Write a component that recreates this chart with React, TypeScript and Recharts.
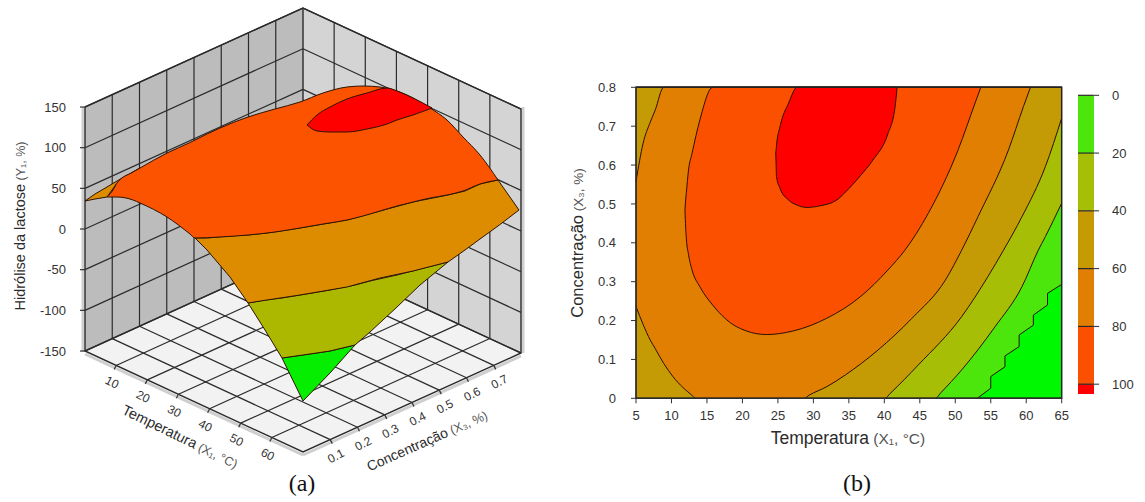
import { ComposedChart, BarChart, Bar, Area, Line, XAxis, YAxis, ReferenceLine } from "recharts";

// shared axes
const tempTicks3d = [10, 20, 30, 40, 50, 60];
const concTicks3d = [0.1, 0.2, 0.3, 0.4, 0.5, 0.6, 0.7];
const yieldTicks = [-150, -100, -50, 0, 50, 100, 150];
const tempTicks = [5, 10, 15, 20, 25, 30, 35, 40, 45, 50, 55, 60, 65];
const concTicks = [0, 0.1, 0.2, 0.3, 0.4, 0.5, 0.6, 0.7, 0.8];

// panel (a): traced surface bands, on the projected drawing plane
const greenX = [282, 303, 330, 355];
const greenTop = [358, 355, 351, 345];
const greenBottom = [358, 401, 373, 345];

const oliveX = [248, 265, 282, 303, 330, 355, 370, 397, 420, 448];
const oliveTop = [303, 300, 298, 294.5, 290, 285, 281, 275, 269, 262];
const oliveBottom = [303, 330, 358, 355, 351, 345, 332, 307, 285, 262];

const orangeX = [195, 207, 230, 248, 267, 300, 347, 380, 413, 448, 465, 480, 498, 519];
const orangeTop = [238, 238, 236, 235, 233, 228, 220, 211, 202, 195, 191, 184, 180, 210];
const orangeBottom = [238, 250, 277, 303, 300, 295, 287, 278, 271, 262, 250, 239, 226, 210];

const mainX = [107, 113, 117, 133, 140, 167, 190, 195, 220, 248, 275, 300, 323, 347, 363, 380, 397, 413, 430, 447, 463, 480, 498];
const mainTop = [197, 190, 183, 172, 168, 153, 142.5, 140, 128, 117, 109, 102, 93, 87, 86, 87, 91, 98, 108, 120, 137, 155, 180];
const mainBottom = [197, 197, 197, 200, 203, 217, 234, 238, 237, 235, 232, 228, 224, 220, 216, 211, 206, 202, 198, 195, 191, 184, 180];

const sliverX = [85, 95, 107, 117, 133, 140];
const sliverTop = [201, 194, 187, 181, 172, 168];
const sliverBottom = [201, 199, 197, 183, 172, 168];

const peakX = [307, 317, 330, 347, 367, 387, 397, 413, 432];
const peakTop = [125, 115, 107, 99, 93, 88, 91, 98, 108];
const peakBottom = [125, 131, 132, 132, 129, 124, 120, 115, 108];

// panel (b): contour bands, temperature against concentration
const base20T = [5, 53.1, 55, 55, 57, 57, 59, 59, 61, 61, 63, 63, 65];
const base20Lower = [0, 0, 0.026, 0.056, 0.081, 0.109, 0.133, 0.163, 0.188, 0.214, 0.24, 0.27, 0.293];

const level20T = [5, 47.2, 48, 50.9, 55.6, 59.4, 61.7, 62.7, 65];
const level20Lower = [0, 0, 0.015, 0.073, 0.184, 0.287, 0.381, 0.416, 0.502];

const level40T = [5, 40.1, 40.8, 44.8, 50.9, 54.6, 56.8, 59.4, 62.7, 65];
const level40Lower = [0, 0, 0.012, 0.086, 0.21, 0.313, 0.381, 0.467, 0.596, 0.721];

const level60T = [5, 6, 7, 7.7, 8.9, 10.2, 13, 13.4, 28.7, 29.4, 31.9, 34.5, 39.1, 43.9, 48.6, 50.9, 53.2, 57.5, 59.6, 60.6];
const level60Lower = [0.236, 0.19, 0.15, 0.128, 0.09, 0.056, 0.006, 0, 0, 0.008, 0.03, 0.06, 0.124, 0.206, 0.304, 0.381, 0.467, 0.639, 0.75, 0.8];
const level60Upper = [0.557, 0.656, 0.71, 0.741, 0.8, 0.8, 0.8, 0.8, 0.8, 0.8, 0.8, 0.8, 0.8, 0.8, 0.8, 0.8, 0.8, 0.8, 0.8, 0.8];

const level80T = [11.9, 12, 12.1, 12.4, 12.9, 14, 15.8, 16.4, 19.2, 23.4, 27.1, 31.9, 36.6, 40.5, 42.9, 46.2, 50.4, 52.8, 53.6];
const level80Lower = [0.484, 0.44, 0.41, 0.37, 0.33, 0.287, 0.24, 0.227, 0.184, 0.164, 0.173, 0.206, 0.261, 0.33, 0.381, 0.476, 0.639, 0.76, 0.8];
const level80Upper = [0.484, 0.51, 0.53, 0.587, 0.63, 0.716, 0.8, 0.8, 0.8, 0.8, 0.8, 0.8, 0.8, 0.8, 0.8, 0.8, 0.8, 0.8, 0.8];

const level100T = [24.7, 24.75, 24.8, 25.3, 26.5, 27.7, 29.1, 30.9, 33.3, 34.5, 36.6, 38.4, 40.5, 41.5, 41.8];
const level100Lower = [0.631, 0.6, 0.57, 0.54, 0.51, 0.497, 0.491, 0.495, 0.51, 0.53, 0.572, 0.613, 0.68, 0.7475, 0.8];
const level100Upper = [0.631, 0.64, 0.65, 0.699, 0.759, 0.8, 0.8, 0.8, 0.8, 0.8, 0.8, 0.8, 0.8, 0.8, 0.8];

// colour key
const keyTicks = [0, 20, 40, 60, 80, 100];
const keyBands = [20, 20, 20, 20, 20, 3.4];
const keyColors = ["#4ce60c", "#a6bf06", "#c69a03", "#e07f02", "#fb5000", "#ff0000"];

const SANS = '"Liberation Sans", Arial, sans-serif';
const TEXT = "#333";
const CONTOUR = "#2a1000";

// oblique view of the cube: temperature 0-70, concentration 0-0.8, yield -150..150
const project = (t: number, c: number, y: number) => ({
  x: 85 + (t * 218) / 70 + (c * 218) / 0.8,
  y: 351 + (t * 101) / 70 - (c * 99) / 0.8 - (y + 150) * 0.8133,
});

const band = (xs: number[], low: number[] | number, high: number[] | number) =>
  xs.map((x, i) => ({
    x,
    range: [typeof low === "number" ? low : low[i], typeof high === "number" ? high : high[i]],
  }));

const seg = (a: { x: number; y: number }, b: { x: number; y: number }) => [a, b];

const gridLines = [
  ...concTicks3d.map((c) => seg(project(0, c, -150), project(0, c, 150))),
  ...tempTicks3d.map((t) => seg(project(t, 0.8, -150), project(t, 0.8, 150))),
  ...yieldTicks.map((y) => seg(project(0, 0, y), project(0, 0.8, y))),
  ...yieldTicks.map((y) => seg(project(0, 0.8, y), project(70, 0.8, y))),
  ...tempTicks3d.map((t) => seg(project(t, 0, -150), project(t, 0.8, -150))),
  ...concTicks3d.map((c) => seg(project(0, c, -150), project(70, c, -150))),
];
const frameLines = [
  [project(0, 0, 150), project(0, 0, -150), project(70, 0, -150), project(70, 0.8, -150), project(70, 0.8, 150), project(0, 0.8, 150), project(0, 0, 150)],
  [project(0, 0.8, 150), project(0, 0.8, -150)],
  [project(0, 0, -150), project(0, 0.8, -150), project(70, 0.8, -150)],
];
const tickMarks = [
  ...yieldTicks.map((y) => {
    const p = project(0, 0, y);
    return seg(p, { x: p.x - 5, y: p.y });
  }),
  ...tempTicks3d.map((t) => {
    const p = project(t, 0, -150);
    return seg(p, { x: p.x - 2, y: p.y + 4 });
  }),
  ...concTicks3d.map((c) => {
    const p = project(70, c, -150);
    return seg(p, { x: p.x + 2, y: p.y + 4 });
  }),
];
const shadeLines = [
  seg({ x: 83, y: 107 }, { x: 83, y: 352 }),
  seg({ x: 523, y: 107 }, { x: 523, y: 353 }),
  seg({ x: 85, y: 354 }, { x: 303, y: 455 }),
  seg({ x: 303, y: 455 }, { x: 521, y: 356 }),
];

const leftWall = band([85, 303], [project(0, 0, 150).y, project(0, 0.8, 150).y], [project(0, 0, -150).y, project(0, 0.8, -150).y]);
const rightWall = band([303, 521], [project(0, 0.8, 150).y, project(70, 0.8, 150).y], [project(0, 0.8, -150).y, project(70, 0.8, -150).y]);
const floor = band([85, 303, 521], [351, project(0, 0.8, -150).y, project(70, 0.8, -150).y], [351, project(70, 0, -150).y, project(70, 0.8, -150).y]);

const surfaceBands = [
  { key: "green", data: band(greenX, greenTop, greenBottom), fill: "#05ee00", curve: "linear" },
  { key: "olive", data: band(oliveX, oliveTop, oliveBottom), fill: "#acb800", curve: "linear" },
  { key: "orange", data: band(orangeX, orangeTop, orangeBottom), fill: "#dd8c00", curve: "linear" },
  { key: "sliver", data: band(sliverX, sliverTop, sliverBottom), fill: "#dd8c00", curve: "linear" },
  { key: "main", data: band(mainX, mainTop, mainBottom), fill: "#fc5300", curve: "monotone" },
  { key: "peak", data: band(peakX, peakTop, peakBottom), fill: "#ff0000", curve: "monotone" },
];

const contourBands = [
  { key: "base", data: band([5, 65], 0, 0.8), fill: "#00f800", curve: "linear" },
  { key: "c0", data: band(base20T, base20Lower, 0.8), fill: "#4ce60c", curve: "linear" },
  { key: "c20", data: band(level20T, level20Lower, 0.8), fill: "#a6bf06", curve: "monotone" },
  { key: "c40", data: band(level40T, level40Lower, 0.8), fill: "#c49a05", curve: "monotone" },
  { key: "c60", data: band(level60T, level60Lower, level60Upper), fill: "#e07f02", curve: "monotone" },
  { key: "c80", data: band(level80T, level80Lower, level80Upper), fill: "#fb5000", curve: "monotone" },
  { key: "c100", data: band(level100T, level100Lower, level100Upper), fill: "#ff0000", curve: "monotone" },
];

const plotFrame = [
  { x: 5, y: 0 },
  { x: 5, y: 0.8 },
  { x: 65, y: 0.8 },
  { x: 65, y: 0 },
  { x: 5, y: 0 },
];

const keyRow = [{ name: "key", ...Object.fromEntries(keyBands.map((v, i) => [`b${i}`, v])) }];

const flatAxes = [
  <XAxis key="x" type="number" dataKey="x" domain={[0, 560]} hide />,
  <YAxis key="y" type="number" domain={[0, 502]} reversed hide />,
];

function SurfacePanel() {
  const margin = { top: 0, right: 0, bottom: 0, left: 0 };
  return (
    <>
      <div style={{ position: "absolute", left: 0, top: 0 }}>
        <ComposedChart width={560} height={502} margin={margin}>
          {flatAxes}
          <Area data={leftWall} dataKey="range" fill="#bcbcbc" fillOpacity={1} stroke="none" isAnimationActive={false} activeDot={false} />
          <Area data={rightWall} dataKey="range" fill="#d4d4d4" fillOpacity={1} stroke="none" isAnimationActive={false} activeDot={false} />
          <Area data={floor} dataKey="range" fill="#f2f2f2" fillOpacity={1} stroke="none" isAnimationActive={false} activeDot={false} />
          {shadeLines.map((d, i) => (
            <Line key={`s${i}`} data={d} dataKey="y" stroke="#cfcfcf" strokeWidth={3} dot={false} activeDot={false} isAnimationActive={false} />
          ))}
          {gridLines.map((d, i) => (
            <Line key={`g${i}`} data={d} dataKey="y" stroke="#2b2b2b" strokeWidth={1.2} dot={false} activeDot={false} isAnimationActive={false} />
          ))}
          {frameLines.map((d, i) => (
            <Line key={`f${i}`} data={d} dataKey="y" stroke="#2b2b2b" strokeWidth={1.4} dot={false} activeDot={false} isAnimationActive={false} />
          ))}
          {tickMarks.map((d, i) => (
            <Line key={`t${i}`} data={d} dataKey="y" stroke="#333" strokeWidth={1.2} dot={false} activeDot={false} isAnimationActive={false} />
          ))}
        </ComposedChart>
      </div>
      <div style={{ position: "absolute", left: 0, top: 0 }}>
        <ComposedChart width={560} height={502} margin={margin}>
          {flatAxes}
          {surfaceBands.map((b) => (
            <Area key={b.key} type={b.curve as any} data={b.data} dataKey="range" fill={b.fill} fillOpacity={1} stroke="#2e1400" strokeWidth={1} isAnimationActive={false} activeDot={false} />
          ))}
        </ComposedChart>
      </div>
    </>
  );
}

function ContourPanel() {
  return (
    <div style={{ position: "absolute", left: 560, top: 0 }}>
      <ComposedChart width={585} height={502} margin={{ top: 87.3, right: 83.3, bottom: 73.7, left: 16 }}>
        <XAxis
          type="number"
          dataKey="x"
          domain={[5, 65]}
          ticks={tempTicks}
          interval={0}
          height={30}
          tickSize={5}
          tickMargin={7}
          stroke="#333"
          tick={{ fill: TEXT, fontSize: 13, fontFamily: SANS }}
        />
        <YAxis
          type="number"
          domain={[0, 0.8]}
          ticks={concTicks}
          interval={0}
          width={60}
          tickSize={5}
          tickMargin={15}
          stroke="#333"
          tick={{ fill: TEXT, fontSize: 13, fontFamily: SANS }}
        />
        {contourBands.map((b) => (
          <Area key={b.key} type={b.curve as any} data={b.data} dataKey="range" fill={b.fill} fillOpacity={1} stroke={CONTOUR} strokeWidth={1} isAnimationActive={false} activeDot={false} />
        ))}
        <Line data={plotFrame} dataKey="y" stroke="#222" strokeWidth={1.5} dot={false} activeDot={false} isAnimationActive={false} />
      </ComposedChart>
    </div>
  );
}

function ColourKey() {
  return (
    <div style={{ position: "absolute", left: 1078, top: 0 }}>
      <BarChart
        width={67}
        height={502}
        data={keyRow}
        barCategoryGap={0}
        margin={{ top: 95.3, right: 0, bottom: 108, left: 0 }}
      >
        <XAxis dataKey="name" hide />
        <YAxis
          orientation="right"
          type="number"
          domain={[0, 103.4]}
          reversed
          ticks={keyTicks}
          interval={0}
          width={51.4}
          axisLine={false}
          tickSize={5.5}
          tickMargin={13}
          stroke="#2a2a2a"
          tick={{ fill: TEXT, fontSize: 13, fontFamily: SANS, textAnchor: "start" }}
        />
        {keyBands.map((_, i) => (
          <Bar key={i} dataKey={`b${i}`} stackId="key" fill={keyColors[i]} isAnimationActive={false} />
        ))}
        {keyTicks.map((v) => (
          <ReferenceLine key={v} y={v} stroke="#2a2a2a" strokeWidth={1.2} />
        ))}
      </BarChart>
    </div>
  );
}

function AxisText({ x, y, rotate = 0, main, note, size = 14.5, noteSize = 12.5 }: any) {
  return (
    <text x={x} y={y} transform={rotate ? `rotate(${rotate} ${x} ${y})` : undefined} textAnchor="middle" fontFamily={SANS} fontSize={size} fill="#2b2b2b">
      {main}
      <tspan fontSize={noteSize} fill="#555">{` ${note}`}</tspan>
    </text>
  );
}

function Annotations() {
  return (
    <svg width={1145} height={502} style={{ position: "absolute", left: 0, top: 0, pointerEvents: "none" }}>
      {yieldTicks.map((y) => (
        <text key={y} x={66} y={project(0, 0, y).y + 4.5} textAnchor="end" fontFamily={SANS} fontSize={13} fill={TEXT}>
          {y}
        </text>
      ))}
      {tempTicks3d.map((t) => {
        const p = project(t, 0, -150);
        const x = p.x - 6;
        const y = p.y + 20.5;
        return (
          <text key={t} x={x} y={y} transform={`rotate(27 ${x} ${y})`} textAnchor="middle" fontFamily={SANS} fontSize={12} fill={TEXT}>
            {t}
          </text>
        );
      })}
      {concTicks3d.map((c) => {
        const p = project(70, c, -150);
        const x = p.x + 7.5;
        const y = p.y + 20;
        return (
          <text key={c} x={x} y={y} transform={`rotate(-27 ${x} ${y})`} textAnchor="middle" fontFamily={SANS} fontSize={12} fill={TEXT}>
            {c}
          </text>
        );
      })}
      <AxisText x={25} y={226} rotate={-90} main="Hidrólise da lactose" note="(Y₁, %)" />
      <AxisText x={178} y={441} rotate={26} main="Temperatura" note="(X₁, °C)" />
      <AxisText x={429} y={445} rotate={-24} main="Concentração" note="(X₃, %)" size={14} />
      <AxisText x={583} y={243} rotate={-90} main="Concentração" note="(X₃, %)" size={16.5} noteSize={13.5} />
      <AxisText x={848} y={444} main="Temperatura" note="(X₁, °C)" size={17.5} noteSize={15.5} />
      <text x={302} y={491} textAnchor="middle" fontFamily='"Liberation Serif", serif' fontSize={24} fill="#111">(a)</text>
      <text x={857} y={491} textAnchor="middle" fontFamily='"Liberation Serif", serif' fontSize={24} fill="#111">(b)</text>
    </svg>
  );
}

export default function App() {
  return (
    <div style={{ position: "absolute", left: 0, top: 0, width: 1145, height: 502, background: "#fff", overflow: "hidden" }}>
      <SurfacePanel />
      <ContourPanel />
      <ColourKey />
      <Annotations />
    </div>
  );
}
